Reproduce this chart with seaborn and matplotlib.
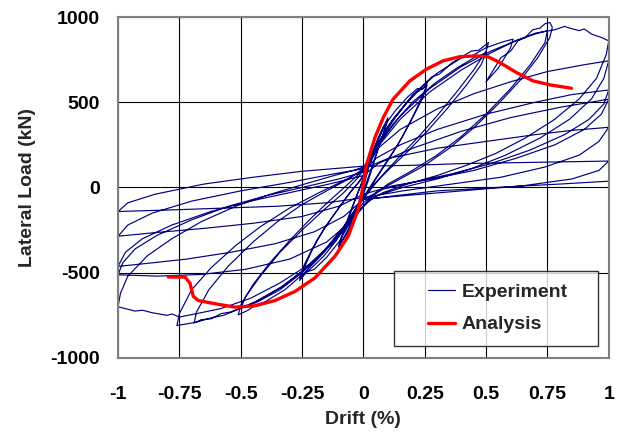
import matplotlib
matplotlib.use("Agg")
import matplotlib.pyplot as plt
from matplotlib.legend_handler import HandlerLine2D
from matplotlib.lines import Line2D
import seaborn as sns
import pandas as pd

# ---------------- data ----------------
x_ticks = [-1, -0.75, -0.5, -0.25, 0, 0.25, 0.5, 0.75, 1]
x_tick_labels = ["-1", "-0.75", "-0.5", "-0.25", "0", "0.25", "0.5", "0.75", "1"]
y_ticks = [-1000, -500, 0, 500, 1000]
y_tick_labels = ["-1000", "-500", "0", "500", "1000"]

# Experiment: cyclic load path, (drift %, load kN) per cycle group
cycles_010 = [(0, 0), (0.02, 110), (0.05, 240), (0.08, 340), (0.1, 400),
              (0.09, 350), (0.06, 230), (0.03, 100), (0.0, -20),
              (-0.03, -130), (-0.06, -240), (-0.09, -320), (-0.1, -350),
              (-0.09, -300), (-0.06, -180), (-0.03, -60), (0.0, 50),
              (0.03, 170), (0.06, 290), (0.1, 410),
              (0.08, 310), (0.05, 180), (0.02, 40), (-0.01, -80),
              (-0.04, -190), (-0.07, -280), (-0.1, -340),
              (-0.08, -250), (-0.05, -130), (-0.02, -20)]

cycles_025 = [(0.01, 90), (0.04, 220), (0.08, 350), (0.13, 450), (0.18, 530), (0.22, 580), (0.24, 575), (0.26, 615),
              (0.25, 570), (0.21, 440), (0.16, 300), (0.11, 180), (0.06, 70), (0.02, -20),
              (-0.02, -110), (-0.06, -220), (-0.1, -320), (-0.15, -410), (-0.2, -480), (-0.23, -495), (-0.26, -545),
              (-0.25, -500), (-0.21, -370), (-0.16, -240), (-0.1, -120), (-0.05, -20), (0.0, 60),
              (0.04, 180), (0.08, 300), (0.13, 410), (0.18, 500), (0.22, 560), (0.26, 600),
              (0.24, 520), (0.19, 380), (0.14, 250), (0.08, 120), (0.03, 10),
              (-0.01, -80), (-0.06, -200), (-0.11, -310), (-0.16, -400), (-0.21, -470), (-0.26, -530),
              (-0.24, -450), (-0.19, -310), (-0.13, -180), (-0.07, -60), (-0.02, 30)]

cycles_050 = [(0.02, 120), (0.06, 260), (0.12, 400), (0.2, 540), (0.28, 650), (0.31, 665), (0.36, 730), (0.44, 800),
              (0.47, 805), (0.51, 850),
              (0.5, 800), (0.45, 690), (0.38, 560), (0.3, 420), (0.22, 290), (0.14, 170), (0.07, 60), (0.02, -30),
              (-0.03, -120), (-0.09, -250), (-0.16, -380), (-0.24, -500), (-0.32, -600), (-0.4, -670), (-0.44, -690),
              (-0.47, -720), (-0.51, -747),
              (-0.5, -690), (-0.45, -570), (-0.38, -440), (-0.3, -310), (-0.22, -190), (-0.14, -80), (-0.07, 10), (-0.01, 90),
              (0.05, 230), (0.12, 370), (0.2, 500), (0.29, 610), (0.38, 700), (0.45, 760), (0.5, 790),
              (0.48, 720), (0.42, 600), (0.34, 460), (0.26, 330), (0.18, 210), (0.1, 100), (0.03, 0),
              (-0.02, -100), (-0.08, -230), (-0.16, -370), (-0.25, -500), (-0.34, -600), (-0.43, -670), (-0.5, -710),
              (-0.48, -640), (-0.42, -520), (-0.34, -380), (-0.25, -250), (-0.16, -130), (-0.08, -30), (-0.02, 60)]

cycles_075 = [(0.04, 200), (0.1, 360), (0.2, 540), (0.3, 670), (0.4, 760), (0.44, 770), (0.5, 820), (0.57, 855), (0.61, 870),
              (0.6, 820), (0.55, 700), (0.5, 620),
              (0.56, 760), (0.6, 800), (0.63, 860), (0.66, 880), (0.69, 925), (0.72, 935), (0.74, 960), (0.76, 968), (0.77, 940),
              (0.76, 880), (0.71, 760), (0.64, 630), (0.55, 490), (0.45, 350), (0.35, 230), (0.25, 130), (0.15, 50), (0.06, -20), (0.0, -90),
              (-0.06, -200), (-0.14, -340), (-0.24, -480), (-0.34, -590), (-0.44, -670), (-0.54, -730), (-0.58, -740),
              (-0.62, -770), (-0.66, -775), (-0.69, -795),
              (-0.68, -730), (-0.63, -600), (-0.55, -460), (-0.45, -320), (-0.35, -200), (-0.25, -100), (-0.15, -20), (-0.06, 50), (0.0, 110),
              (0.06, 250), (0.15, 420), (0.27, 580), (0.4, 710), (0.52, 800), (0.62, 860), (0.7, 900), (0.75, 920),
              (0.74, 850), (0.68, 720), (0.6, 580), (0.5, 430), (0.4, 300), (0.3, 190), (0.2, 100), (0.1, 20), (0.03, -60),
              (-0.04, -170), (-0.12, -320), (-0.22, -460), (-0.33, -580), (-0.45, -680), (-0.57, -750), (-0.62, -765),
              (-0.68, -790), (-0.76, -810),
              (-0.75, -740), (-0.7, -600), (-0.62, -470), (-0.52, -340), (-0.42, -230), (-0.3, -120), (-0.18, -30), (-0.08, 40), (0.0, 100)]

cycles_100 = [(0.06, 240), (0.15, 400), (0.27, 560), (0.4, 690), (0.52, 790), (0.62, 860), (0.7, 905), (0.78, 925),
              (0.82, 945), (0.84, 935), (0.88, 920), (0.9, 930), (0.93, 900), (0.97, 880), (1.0, 860),
              (0.99, 780), (0.95, 640), (0.88, 520), (0.78, 400), (0.66, 290), (0.54, 200), (0.42, 130), (0.3, 70),
              (0.18, 20), (0.08, -30), (0.02, -80),
              (-0.04, -180), (-0.12, -320), (-0.22, -450), (-0.34, -560), (-0.46, -650), (-0.58, -710), (-0.68, -740),
              (-0.75, -760), (-0.78, -742), (-0.8, -750), (-0.86, -735), (-0.9, -720), (-0.93, -725), (-1.0, -700),
              (-0.99, -620), (-0.96, -520), (-0.88, -400), (-0.78, -300), (-0.66, -200), (-0.52, -110), (-0.38, -40),
              (-0.24, 20), (-0.12, 70), (-0.04, 100), (0.0, 120)]

cycles_degraded = [(0.06, 230), (0.15, 340), (0.3, 460), (0.45, 550), (0.6, 620), (0.75, 680), (0.9, 720), (1.0, 743),
                   (0.98, 640), (0.93, 520), (0.84, 400), (0.72, 290), (0.58, 190), (0.44, 110), (0.3, 50), (0.16, 0),
                   (0.05, -50), (0.0, -110),
                   (-0.06, -210), (-0.15, -320), (-0.3, -420), (-0.48, -480), (-0.66, -510), (-0.84, -520), (-1.0, -512),
                   (-0.98, -440), (-0.93, -360), (-0.84, -280), (-0.7, -190), (-0.55, -110), (-0.4, -50), (-0.25, 0),
                   (-0.1, 50), (0.0, 90),
                   (0.05, 170), (0.15, 250), (0.3, 340), (0.5, 430), (0.7, 500), (0.85, 545), (1.0, 572),
                   (0.98, 490), (0.92, 400), (0.82, 310), (0.68, 220), (0.52, 140), (0.36, 80), (0.2, 30), (0.08, -10), (0.0, -70),
                   (-0.08, -170), (-0.2, -260), (-0.36, -330), (-0.54, -380), (-0.72, -420), (-0.88, -445), (-1.0, -463),
                   (-0.97, -380), (-0.9, -300), (-0.78, -220), (-0.62, -140), (-0.46, -80), (-0.3, -30), (-0.14, 20), (0.0, 70),
                   (0.06, 140), (0.2, 230), (0.4, 330), (0.6, 410), (0.8, 470), (1.0, 518),
                   (0.97, 430), (0.9, 340), (0.78, 250), (0.62, 170), (0.45, 100), (0.28, 50), (0.12, 10), (0.0, -40),
                   (-0.1, -110), (-0.25, -170), (-0.45, -210), (-0.65, -240), (-0.85, -265), (-1.0, -286),
                   (-0.96, -220), (-0.86, -150), (-0.7, -80), (-0.5, -20), (-0.3, 30), (-0.12, 80), (0.0, 110),
                   (0.1, 170), (0.3, 230), (0.5, 270), (0.7, 310), (0.85, 335), (1.0, 353),
                   (0.96, 270), (0.88, 190), (0.74, 120), (0.56, 60), (0.36, 20), (0.16, -20), (0.0, -60),
                   (-0.15, -90), (-0.35, -110), (-0.55, -120), (-0.75, -130), (-1.0, -141),
                   (-0.96, -90), (-0.85, -40), (-0.65, 20), (-0.45, 60), (-0.25, 95), (-0.08, 115), (0.0, 125),
                   (0.2, 130), (0.4, 140), (0.6, 145), (0.8, 150), (1.0, 155),
                   (0.96, 100), (0.85, 50), (0.65, 10), (0.4, -20), (0.15, -50), (0.0, -70),
                   (0.3, -20), (0.6, 5), (0.8, 20), (1.0, 37)]

# Analysis curve
ana_drift = [-0.795, -0.727, -0.707, -0.693, -0.673, -0.605, -0.523, -0.442, -0.36, -0.279, -0.198,
             -0.116, -0.062, -0.021, -0.005, 0.013, 0.047, 0.081, 0.121, 0.189, 0.257, 0.325, 0.393,
             0.461, 0.508, 0.556, 0.624, 0.692, 0.76, 0.848]
ana_load = [-525, -525, -561, -639, -663, -682, -702, -694, -663, -610, -531,
            -404, -286, -129, -20, 135, 292, 410, 518, 625, 694, 743, 767,
            772, 767, 733, 674, 625, 602, 582]

# ---------------- build tables ----------------
exp_path = cycles_010 + cycles_025 + cycles_050 + cycles_075 + cycles_100 + cycles_degraded
exp_df = pd.DataFrame(exp_path, columns=["drift", "load"])
ana_df = pd.DataFrame({"drift": ana_drift, "load": ana_load})

sns.set_theme(style="white")
plt.rcParams["font.family"] = ["Liberation Sans", "DejaVu Sans"]
plt.rcParams["font.weight"] = "bold"

fig, ax = plt.subplots(figsize=(6.18, 4.36), dpi=100)
fig.subplots_adjust(left=0.191, right=0.985, top=0.961, bottom=0.179)

sns.lineplot(data=exp_df, x="drift", y="load", sort=False, estimator=None,
             color="#000080", linewidth=0.85, label="Experiment", ax=ax)
sns.lineplot(data=ana_df, x="drift", y="load", sort=False, estimator=None,
             color="#ff0000", linewidth=2.4, label="Analysis", ax=ax)

ax.set_xlim(-1, 1)
ax.set_ylim(-1000, 1000)
ax.set_xticks(x_ticks)
ax.set_xticklabels(x_tick_labels)
ax.set_yticks(y_ticks)
ax.set_yticklabels(y_tick_labels)
ax.tick_params(axis="both", length=0, labelsize=14, colors="black")
ax.tick_params(axis="x", pad=20)
ax.tick_params(axis="y", pad=13)
for lab in ax.get_xticklabels() + ax.get_yticklabels():
    lab.set_fontweight("bold")

ax.grid(True, color="black", linewidth=0.8)
ax.set_axisbelow(True)
for sp in ax.spines.values():
    sp.set_color("#808080")
    sp.set_linewidth(1.5)

ax.set_xlabel("Drift (%)", fontsize=14, fontweight="bold", labelpad=6)
ax.set_ylabel("Lateral Load (kN)", fontsize=14, fontweight="bold", labelpad=10)

handles, labels = ax.get_legend_handles_labels()
leg = ax.legend(handles, labels, loc="lower left",
                bbox_to_anchor=(0.562, 0.035, 0.4155, 0.2), mode="expand",
                fontsize=14, frameon=True, fancybox=False, handlelength=2.5,
                borderpad=0.65, labelspacing=0.75, handletextpad=0.35, borderaxespad=0,
                handler_map={Line2D: HandlerLine2D(xpad=1.1)})
leg.get_frame().set_edgecolor("black")
leg.get_frame().set_linewidth(1.0)
for t in leg.get_texts():
    t.set_fontweight("bold")

fig.savefig("out.png", dpi=100)
